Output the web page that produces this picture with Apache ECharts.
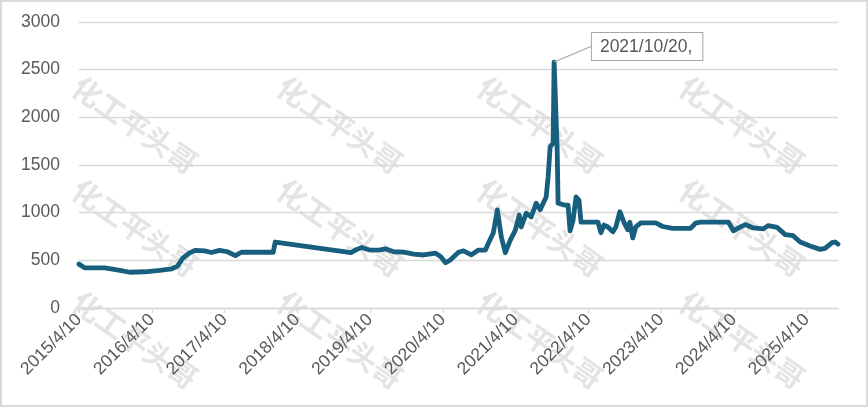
<!DOCTYPE html>
<html>
<head>
<meta charset="utf-8">
<script src="https://cdn.jsdelivr.net/npm/echarts@6/dist/echarts.min.js"></script>
<style>
  html, body { margin: 0; padding: 0; background: #fff; }
  #price-chart { position: absolute; left: 0; top: 0; width: 868px; height: 407px; }
  #chart-frame {
    position: absolute; left: 0; top: 0; width: 868px; height: 407px;
    box-sizing: border-box; border: 2px solid #d9d9d9; pointer-events: none;
  }
</style>
</head>
<body>
<div id="price-chart"></div>
<div id="chart-frame"></div>
<script>
// 日期 / 价格
const dates = [
  "2015-04-10", "2015-05-10", "2015-08-18", "2015-11-01", "2015-12-21",
  "2016-03-05", "2016-05-19", "2016-07-18", "2016-08-17", "2016-09-11",
  "2016-10-16", "2016-11-15", "2016-12-30", "2017-02-03", "2017-03-15",
  "2017-04-24", "2017-06-03", "2017-07-03", "2017-12-10", "2017-12-20",
  "2019-01-04", "2019-02-03", "2019-02-28", "2019-04-04", "2019-05-24",
  "2019-06-28", "2019-08-07", "2019-09-26", "2019-11-15", "2020-01-04",
  "2020-03-04", "2020-03-29", "2020-04-23", "2020-05-18", "2020-06-27",
  "2020-07-22", "2020-08-31", "2020-10-05", "2020-11-09", "2020-11-24",
  "2020-12-19", "2021-01-08", "2021-01-28", "2021-02-17", "2021-03-14",
  "2021-04-08", "2021-04-28", "2021-05-08", "2021-06-02", "2021-06-27",
  "2021-07-22", "2021-08-11", "2021-09-10", "2021-09-20", "2021-09-30",
  "2021-10-15", "2021-10-20", "2021-11-04", "2021-11-09", "2021-12-09",
  "2021-12-29", "2022-01-08", "2022-01-23", "2022-02-07", "2022-02-22",
  "2022-03-04", "2022-05-28", "2022-06-12", "2022-06-27", "2022-07-17",
  "2022-08-11", "2022-08-26", "2022-09-15", "2022-10-05", "2022-10-25",
  "2022-11-04", "2022-11-19", "2022-12-04", "2022-12-29", "2023-03-14",
  "2023-04-18", "2023-06-07", "2023-09-05", "2023-09-30", "2023-10-25",
  "2024-03-13", "2024-04-07", "2024-05-12", "2024-06-06", "2024-07-16",
  "2024-09-04", "2024-09-29", "2024-11-13", "2024-12-23", "2025-02-01",
  "2025-03-08", "2025-04-27", "2025-06-16", "2025-07-11", "2025-08-15",
  "2025-08-30", "2025-09-14",
];
const prices = [
  460, 420, 420, 395, 375,
  380, 395, 410, 440, 520,
  578, 605, 600, 582, 605,
  590, 550, 585, 585, 692,
  580, 615, 635, 610, 608,
  620, 590, 587, 566, 556,
  575, 540, 475, 505, 585,
  600, 558, 608, 608, 680,
  790, 1030, 745, 580, 712,
  815, 975, 850, 995, 955,
  1100, 1030, 1165, 1375, 1690,
  1730, 2580, 1690, 1100, 1080,
  1080, 810, 920, 1165, 1130,
  900, 900, 790, 870, 850,
  800, 850, 1010, 900, 820,
  900, 735, 850, 892, 892,
  855, 835, 835, 890, 900,
  900, 810, 850, 875, 840,
  830, 865, 845, 770, 758,
  692, 650, 615, 625, 685,
  692, 670,
];
const tickDates = [
  "2015-04-10", "2016-04-10", "2017-04-10", "2018-04-10", "2019-04-10",
  "2020-04-10", "2021-04-10", "2022-04-10", "2023-04-10", "2024-04-10",
  "2025-04-10",
];
const peakDate = "2021-10-20";
const peakText = "2021/10/20,";
const watermarkText = "化工平头哥";

function toTime(s) {
  const [y, m, d] = s.split("-").map(Number);
  return new Date(y, m - 1, d).getTime();
}

const peakIndex = dates.indexOf(peakDate);
const seriesData = dates.map((d, i) => {
  const item = { value: [toTime(d), prices[i]] };
  if (i === peakIndex) {
    item.label = { show: true };
    item.labelLine = { show: true };
  }
  return item;
});

const textColor = "#595959";
const gridColor = "#d9d9d9";
const lineColor = "#175e7f";
const fontFamily = "'Liberation Sans', Arial, sans-serif";

// 水印：斜排的浅灰文字，铺成网格
const watermarks = [];
[125, 228, 340].forEach((cy) => {
  [135, 340, 540, 742].forEach((cx) => {
    watermarks.push({
      type: "text",
      x: cx,
      y: cy,
      rotation: (-35 * Math.PI) / 180,
      silent: true,
      z: 0,
      style: {
        text: watermarkText,
        fill: "#e4e4e4",
        font: "bold 29px 'Noto Sans CJK SC'",
        align: "center",
        verticalAlign: "middle",
      },
    });
  });
});

const chartDom = document.getElementById("price-chart");
const myChart = echarts.init(chartDom, null, { renderer: "canvas" });

const option = {
  animation: false,
  backgroundColor: "#fff",
  graphic: watermarks,
  grid: {
    left: 79,
    right: 30,
    top: 22,
    bottom: 99,
  },
  xAxis: {
    // 时间戳放在数值轴上，刻度用 customValues 定在每年 4/10
    type: "value",
    min: toTime(dates[0]),
    max: toTime(dates[dates.length - 1]),
    axisLine: {
      show: true,
      lineStyle: { color: gridColor, width: 1.3 },
    },
    axisTick: {
      show: true,
      length: 5,
      customValues: tickDates.map(toTime),
      lineStyle: { color: gridColor, width: 1.3 },
    },
    axisLabel: {
      customValues: tickDates.map(toTime),
      rotate: 45,
      margin: 9,
      color: textColor,
      fontSize: 17.5,
      fontFamily: fontFamily,
      formatter: function (v) {
        const d = new Date(v);
        return d.getFullYear() + "/" + (d.getMonth() + 1) + "/" + d.getDate();
      },
    },
    splitLine: { show: false },
  },
  yAxis: {
    type: "value",
    min: 0,
    max: 3000,
    interval: 500,
    axisLine: { show: false },
    axisTick: { show: false },
    axisLabel: {
      margin: 19,
      color: textColor,
      fontSize: 17.5,
      fontFamily: fontFamily,
      formatter: function (v) {
        return String(v);
      },
    },
    splitLine: {
      lineStyle: { color: gridColor, width: 1.3 },
    },
  },
  series: [
    {
      type: "line",
      z: 5,
      showSymbol: true,
      symbol: "circle",
      symbolSize: 0,
      data: seriesData,
      lineStyle: {
        color: lineColor,
        width: 4.8,
        join: "round",
        cap: "round",
      },
      itemStyle: { color: lineColor },
      label: {
        show: false,
        position: "top",
        formatter: peakText,
        color: textColor,
        fontSize: 17.5,
        fontFamily: fontFamily,
        backgroundColor: "#fff",
        borderColor: "#a6a6a6",
        borderWidth: 1,
        padding: [5, 10, 4, 8],
      },
      labelLine: {
        show: false,
        lineStyle: { color: "#a6a6a6", width: 1.2 },
      },
      labelLayout: function (params) {
        if (params.dataIndex !== peakIndex) return {};
        return { dx: 93, dy: 3 };
      },
    },
  ],
};

myChart.setOption(option);
</script>
</body>
</html>
